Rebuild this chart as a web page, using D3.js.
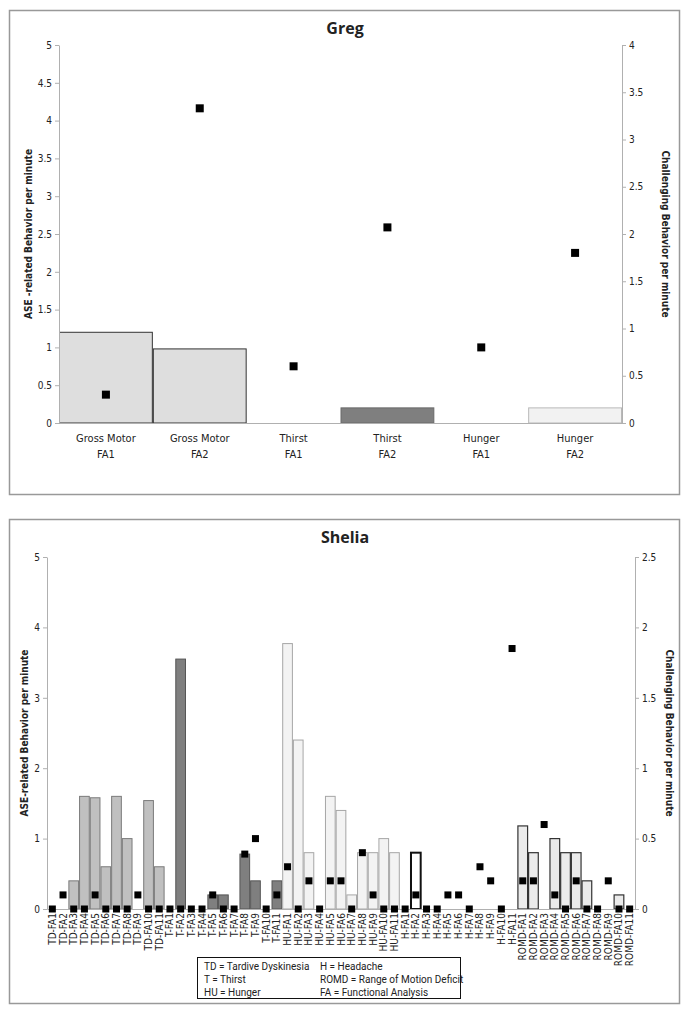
<!DOCTYPE html>
<html>
<head>
<meta charset="utf-8">
<script src="https://cdn.jsdelivr.net/npm/d3@7"></script>
<style>
  body { margin:0; background:#fff; }
  svg { display:block; }
  text { font-family: "Liberation Sans Narrow", "DejaVu Sans Condensed", "Open Sans", sans-serif; fill:#222; }
</style>
</head>
<body>
<svg id="chart" width="689" height="1016"></svg>
<script>
// ---------- DATA ----------
const gregCategories = ["Gross Motor|FA1","Gross Motor|FA2","Thirst|FA1","Thirst|FA2","Hunger|FA1","Hunger|FA2"];
const gregGroups = ["GM","GM","T","T","HU","HU"];
const gregASE = [1.2, 0.98, 0, 0.2, 0, 0.2];
const gregChallenging = [0.3, 3.33, 0.6, 2.07, 0.8, 1.8];
const gregLeftTicks = [0,0.5,1,1.5,2,2.5,3,3.5,4,4.5,5];
const gregRightTicks = [0,0.5,1,1.5,2,2.5,3,3.5,4];

const sheliaPrefixes = ["TD","T","HU","H","ROMD"];
const sheliaCategories = sheliaPrefixes.flatMap(p => d3.range(1,12).map(i => p + "-FA" + i));
const sheliaASE = [
  0,0,0.4,1.6,1.58,0.6,1.6,1.0,0,1.54,0.6,        // TD
  0,3.55,0,0,0.2,0.2,0,0.78,0.4,0,0.4,            // T
  3.77,2.4,0.8,0,1.6,1.4,0.2,0.8,0.8,1.0,0.8,     // HU
  0,0.8,0,0,0,0,0,0,0,0,0,                        // H
  1.18,0.8,0,1.0,0.8,0.8,0.4,0,0,0.2,0            // ROMD
];
const sheliaChallenging = [
  0,0.1,0,0,0.1,0,0,0,0.1,0,0,                    // TD
  0,0,0,0,0.1,0,0,0.39,0.5,0,0.1,                 // T
  0.3,0,0.2,0,0.2,0.2,0,0.4,0.1,0,0,              // HU
  0,0.1,0,0,0.1,0.1,0,0.3,0.2,0,1.85,             // H
  0.2,0.2,0.6,0.1,0,0.2,0,0,0.2,0,0               // ROMD
];
const sheliaLeftTicks = [0,1,2,3,4,5];
const sheliaRightTicks = [0,0.5,1,1.5,2,2.5];
const legendItems = [
  ["TD = Tardive Dyskinesia","H = Headache"],
  ["T = Thirst","ROMD = Range of Motion Deficit"],
  ["HU = Hunger","FA = Functional Analysis"]
];

// ---------- STYLES ----------
const gregStyle = {
  GM: {fill:"#dedede", stroke:"#333", sw:1},
  T:  {fill:"#7f7f7f", stroke:"#6a6a6a", sw:1},
  HU: {fill:"#f2f2f2", stroke:"#b8b8b8", sw:1}
};
const sheliaStyle = {
  TD:   {fill:"#c0c0c0", stroke:"#7a7a7a", sw:1},
  T:    {fill:"#7f7f7f", stroke:"#555", sw:1},
  HU:   {fill:"#f3f3f3", stroke:"#a6a6a6", sw:1},
  H:    {fill:"#ffffff", stroke:"#111", sw:2},
  ROMD: {fill:"#ebebeb", stroke:"#333", sw:1.2}
};
const axisColor = "#b0b0b0";

const svg = d3.select("#chart");

function panelFrame(y0, y1, title) {
  svg.append("rect").attr("x",9.5).attr("y",y0+0.5).attr("width",670).attr("height",y1-y0)
    .attr("fill","none").attr("stroke","#999").attr("stroke-width",1.5);
  svg.append("text").attr("x",345).attr("y",y0+24).attr("text-anchor","middle")
    .style("font-family","'Open Sans', sans-serif")
    .attr("font-size",16).attr("font-weight","bold").text(title);
}

function styleAxis(g) {
  g.selectAll("path").attr("stroke", axisColor);
  g.selectAll("line").attr("stroke", axisColor);
  g.selectAll("text").attr("fill","#333");
}

// ---------- GREG ----------
(function(){
  panelFrame(10, 494, "Greg");
  const L=59, R=622, T=45, B=423;
  const x = d3.scaleBand().domain(gregCategories).range([L,R]).padding(0);
  const yL = d3.scaleLinear().domain([0,5]).range([B,T]);
  const yR = d3.scaleLinear().domain([0,4]).range([B,T]);

  const barData = gregCategories.map((c,i)=>({c, v:gregASE[i], g:gregGroups[i]})).filter(d=>d.v>0);
  svg.append("g").selectAll("rect").data(barData).join("rect")
    .attr("x", d=>x(d.c)+0.5)
    .attr("y", d=>yL(d.v))
    .attr("width", x.bandwidth()-1)
    .attr("height", d=>B - yL(d.v))
    .attr("fill", d=>gregStyle[d.g].fill)
    .attr("stroke", d=>gregStyle[d.g].stroke)
    .attr("stroke-width", d=>gregStyle[d.g].sw);

  const gl = svg.append("g").attr("transform",`translate(${L},0)`)
    .call(d3.axisLeft(yL).tickValues(gregLeftTicks).tickSize(4).tickSizeOuter(0).tickFormat(d3.format("~g")));
  gl.selectAll("text").attr("font-size",10);
  styleAxis(gl);
  const gr = svg.append("g").attr("transform",`translate(${R},0)`)
    .call(d3.axisRight(yR).tickValues(gregRightTicks).tickSize(4).tickSizeOuter(0).tickFormat(d3.format("~g")));
  gr.selectAll("text").attr("font-size",10);
  styleAxis(gr);
  const gx = svg.append("g").attr("transform",`translate(0,${B})`)
    .call(d3.axisBottom(x).tickSize(0).tickFormat(""));
  styleAxis(gx);
  gx.selectAll(".tick").each(function(d){
    const parts = d.split("|");
    const t = d3.select(this).append("text").attr("fill","#333").attr("font-size",11).attr("text-anchor","middle");
    t.append("tspan").attr("x",0).attr("y",19).text(parts[0]);
    t.append("tspan").attr("x",0).attr("y",35).text(parts[1]);
  });

  svg.append("g").selectAll("rect").data(gregChallenging).join("rect")
    .attr("x",(d,i)=>x(gregCategories[i])+x.bandwidth()/2-4)
    .attr("y",d=>yR(d)-4).attr("width",8).attr("height",8).attr("fill","#000");

  svg.append("text").attr("transform",`translate(32,${(T+B)/2}) rotate(-90)`)
    .attr("text-anchor","middle").attr("font-size",10).attr("font-weight","bold")
    .text("ASE -related Behavior per minute");
  svg.append("text").attr("transform",`translate(662,${(T+B)/2}) rotate(90)`)
    .attr("text-anchor","middle").attr("font-size",10).attr("font-weight","bold")
    .text("Challenging Behavior per minute");
})();

// ---------- SHELIA ----------
(function(){
  panelFrame(519, 1003, "Shelia");
  const L=47, R=635, T=557, B=909;
  const x = d3.scaleBand().domain(sheliaCategories).range([L,R]).padding(0);
  const yL = d3.scaleLinear().domain([0,5]).range([B,T]);
  const yR = d3.scaleLinear().domain([0,2.5]).range([B,T]);
  const grp = d => d.split("-")[0];

  svg.append("g").selectAll("rect").data(sheliaCategories.map((c,i)=>({c, v:sheliaASE[i]})).filter(d=>d.v>0)).join("rect")
    .attr("x", d=>x(d.c)+0.5)
    .attr("y", d=>yL(d.v))
    .attr("width", x.bandwidth()-1)
    .attr("height", d=>B - yL(d.v))
    .attr("fill", d=>sheliaStyle[grp(d.c)].fill)
    .attr("stroke", d=>sheliaStyle[grp(d.c)].stroke)
    .attr("stroke-width", d=>sheliaStyle[grp(d.c)].sw);

  const gl = svg.append("g").attr("transform",`translate(${L},0)`)
    .call(d3.axisLeft(yL).tickValues(sheliaLeftTicks).tickSize(4).tickSizeOuter(0).tickFormat(d3.format("~g")));
  gl.selectAll("text").attr("font-size",10);
  styleAxis(gl);
  const gr = svg.append("g").attr("transform",`translate(${R},0)`)
    .call(d3.axisRight(yR).tickValues(sheliaRightTicks).tickSize(4).tickSizeOuter(0).tickFormat(d3.format("~g")));
  gr.selectAll("text").attr("font-size",10);
  styleAxis(gr);
  const gx = svg.append("g").attr("transform",`translate(0,${B})`)
    .call(d3.axisBottom(x).tickSize(0));
  styleAxis(gx);
  gx.selectAll(".tick text")
    .attr("font-size",10)
    .attr("text-anchor","end")
    .attr("transform","rotate(-90)")
    .attr("x",-4).attr("y",0).attr("dy","0.35em");

  svg.append("g").selectAll("rect").data(sheliaChallenging).join("rect")
    .attr("x",(d,i)=>x(sheliaCategories[i])+x.bandwidth()/2-3.5)
    .attr("y",d=>yR(d)-3.5).attr("width",7).attr("height",7).attr("fill","#000");

  svg.append("text").attr("transform",`translate(28,${(T+B)/2}) rotate(-90)`)
    .attr("text-anchor","middle").attr("font-size",10).attr("font-weight","bold")
    .text("ASE-related Behavior per minute");
  svg.append("text").attr("transform",`translate(666,${(T+B)/2}) rotate(90)`)
    .attr("text-anchor","middle").attr("font-size",10).attr("font-weight","bold")
    .text("Challenging Behavior per minute");

  const lg = svg.append("g");
  lg.append("rect").attr("x",197.5).attr("y",957.5).attr("width",263).attr("height",41)
    .attr("fill","#fff").attr("stroke","#111").attr("stroke-width",1);
  legendItems.forEach((row,r)=>{
    row.forEach((txt,c)=>{
      lg.append("text").attr("x", c===0 ? 204 : 320).attr("y", 970 + r*13)
        .style("font-family","Roboto, sans-serif")
        .attr("font-size",10).text(txt);
    });
  });
})();
</script>
</body>
</html>
